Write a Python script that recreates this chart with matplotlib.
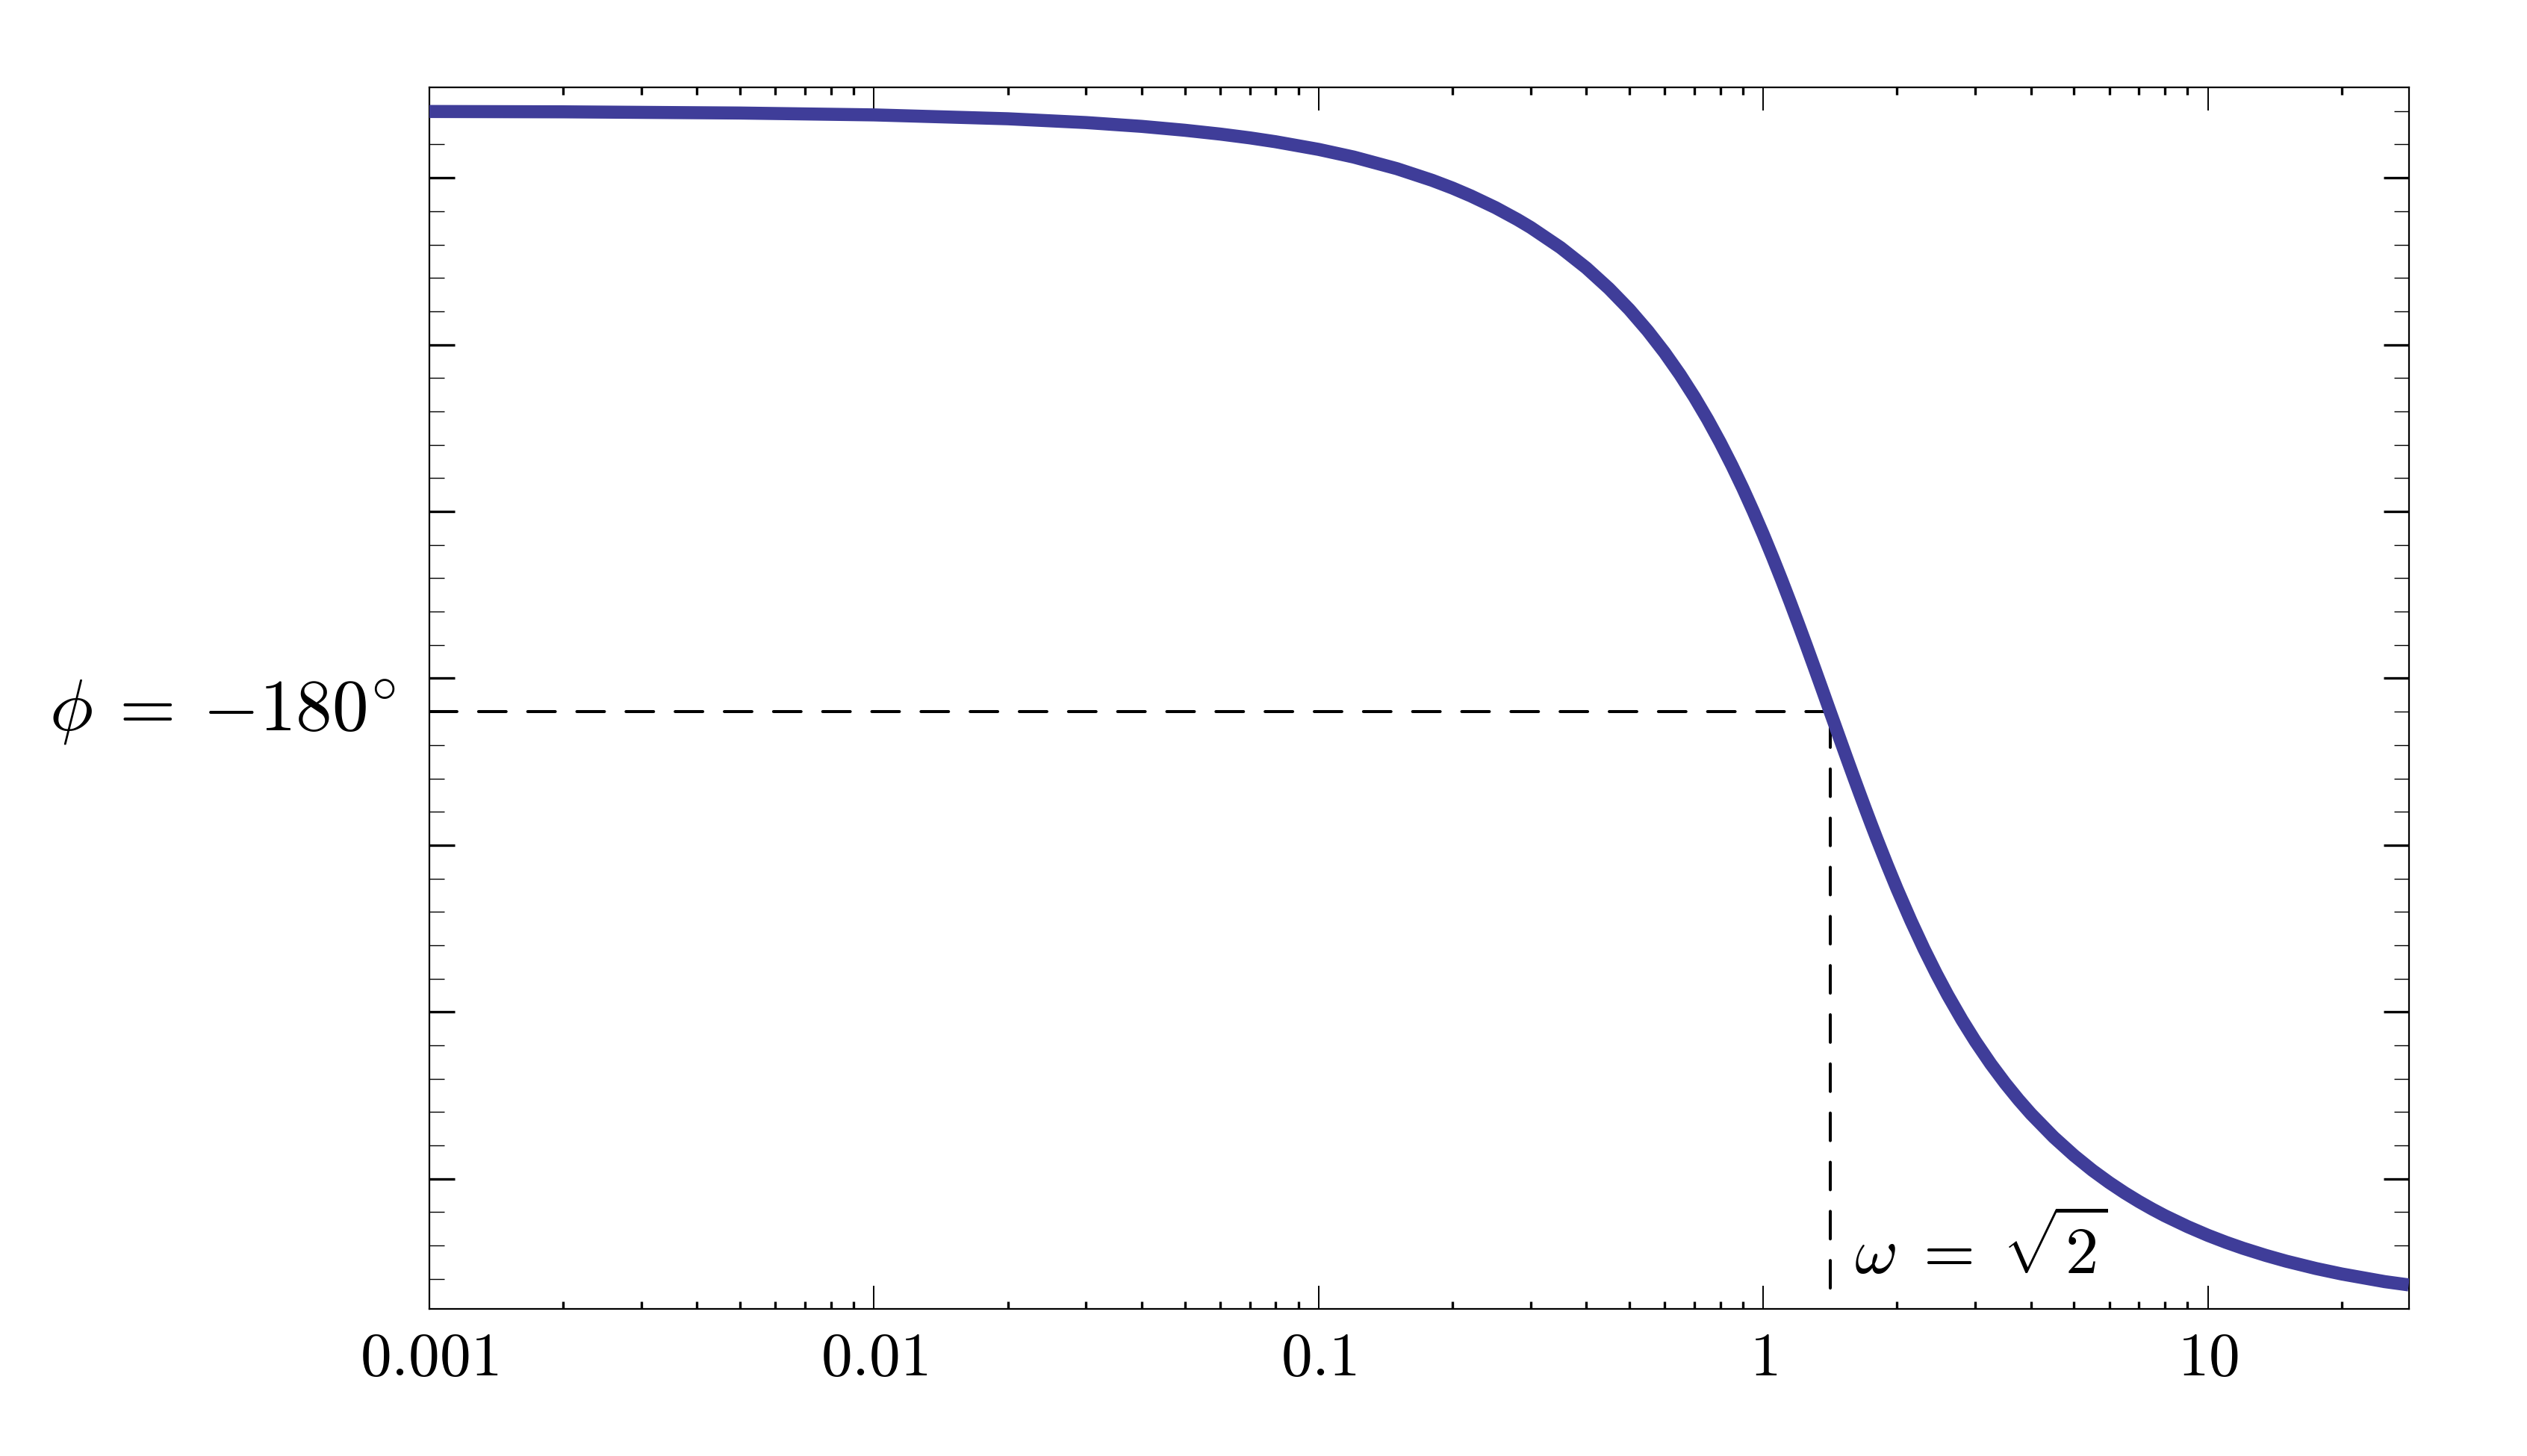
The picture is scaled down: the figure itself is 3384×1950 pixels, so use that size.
import numpy as np
import matplotlib.pyplot as plt
from matplotlib.ticker import FixedLocator, LogLocator, NullFormatter

plt.rcParams['mathtext.fontset'] = 'cm'
plt.rcParams['lines.scale_dashes'] = False

# frequency (rad/s) and phase (deg)
omega = [0.001, 0.002, 0.005, 0.01, 0.02, 0.03, 0.04, 0.05, 0.06, 0.07,
         0.08, 0.1, 0.12, 0.15, 0.18, 0.2, 0.22, 0.25, 0.28, 0.3,
         0.35, 0.4, 0.45, 0.5, 0.55, 0.6, 0.65, 0.7, 0.75, 0.8,
         0.85, 0.9, 0.95, 1.0, 1.05, 1.1, 1.15, 1.2, 1.25, 1.3,
         1.35, 1.414, 1.45, 1.5, 1.55, 1.6, 1.65, 1.7, 1.75, 1.8,
         1.9, 2.0, 2.15, 2.3, 2.45, 2.6, 2.8, 3.0, 3.25, 3.5,
         3.75, 4.0, 4.5, 5.0, 5.5, 6.0, 6.5, 7.0, 7.5, 8.0,
         9.0, 10.0, 11.0, 12.0, 13.5, 15.0, 17.5, 20.0, 25.0, 28.3]
phase = [-90.06, -90.11, -90.29, -90.57, -91.15, -91.72, -92.29, -92.87, -93.44, -94.01,
         -94.59, -95.74, -96.89, -98.63, -100.37, -101.53, -102.71, -104.47, -106.25, -107.44,
         -110.45, -113.50, -116.60, -119.74, -122.94, -126.19, -129.49, -132.84, -136.22, -139.64,
         -143.08, -146.53, -149.99, -153.43, -156.86, -160.25, -163.59, -166.87, -170.07, -173.20,
         -176.24, -180.0, -182.02, -184.76, -187.40, -189.93, -192.35, -194.67, -196.89, -199.01,
         -202.96, -206.57, -211.37, -215.57, -219.24, -222.47, -226.20, -229.40, -232.80, -235.67,
         -238.13, -240.26, -243.75, -246.50, -248.73, -250.56, -252.10, -253.41, -254.54, -255.53,
         -257.16, -258.47, -259.53, -260.41, -261.48, -262.34, -263.44, -264.26, -265.41, -265.90]

w_cross = np.sqrt(2)
phi_cross = -180

xticks = [0.001, 0.01, 0.1, 1, 10]
xlabels = [r'$0.001$', r'$0.01$', r'$0.1$', r'$1$', r'$10$']
ymajor = [-250, -225, -200, -175, -150, -125, -100]
yminor = list(range(-270, -85, 5))

fig = plt.figure(figsize=(16.92, 9.75), dpi=200)
ax = fig.add_axes([0.1699, 0.101, 0.7833, 0.8392])

ax.plot(omega, phase, color='#3f3d99', lw=6.3, solid_capstyle='butt',
        solid_joinstyle='round', zorder=3)

ax.set_xscale('log')
ax.set_xlim(0.001, 28.3)
ax.set_ylim(-269.5, -86.4)

dash = (0, (13.3, 10.4))
ax.plot([0.001, w_cross * 0.985], [phi_cross, phi_cross], color='black', lw=1.45,
        linestyle=dash, dash_capstyle='round', zorder=2)
ax.plot([w_cross, w_cross], [phi_cross - 1.2, -268.0], color='black', lw=1.45,
        linestyle=dash, dash_capstyle='round', zorder=2)

ax.set_xticks(xticks)
ax.set_xticklabels(xlabels, fontsize=30)
ax.xaxis.set_minor_locator(LogLocator(base=10, subs=np.arange(2, 10)))
ax.xaxis.set_minor_formatter(NullFormatter())
ax.yaxis.set_major_locator(FixedLocator(ymajor))
ax.yaxis.set_minor_locator(FixedLocator([v for v in yminor if v not in ymajor]))
ax.set_yticklabels([])

ax.tick_params(axis='x', which='major', direction='in', length=11.2, width=0.7,
               top=True, bottom=True, pad=9)
ax.tick_params(axis='x', which='minor', direction='in', length=3.6, width=1.2,
               top=True, bottom=True)
ax.tick_params(axis='y', which='major', direction='in', length=12.2, width=1.2,
               left=True, right=True)
ax.tick_params(axis='y', which='minor', direction='in', length=7.2, width=0.5,
               left=True, right=True)
for s in ax.spines.values():
    s.set_linewidth(0.8)

ax.text(-0.017, phi_cross, r'$\phi\:=\:{-180}^{\circ}$', transform=ax.get_yaxis_transform(),
        ha='right', va='center', fontsize=35)
ax.text(1.6, -264.2, r'$\omega\;=\;\sqrt{2}$', ha='left', va='baseline', fontsize=32)

fig.savefig('out.png', dpi=200)
